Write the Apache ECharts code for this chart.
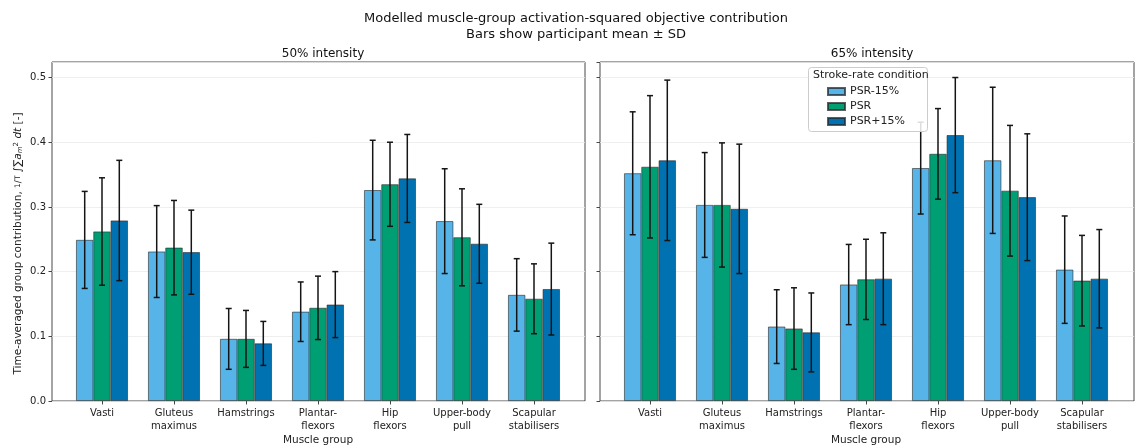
<!DOCTYPE html>
<html>
<head>
<meta charset="utf-8">
<script src="https://cdn.jsdelivr.net/npm/echarts@6/dist/echarts.min.js"></script>
<style>
html,body{margin:0;padding:0;background:#fff;}
#chart{width:1135px;height:446px;}
</style>
</head>
<body>
<div id="chart"></div>
<script>
// ---- Data ----
const categories = ['Vasti', 'Gluteus\nmaximus', 'Hamstrings', 'Plantar-\nflexors', 'Hip\nflexors', 'Upper-body\npull', 'Scapular\nstabilisers'];
const conditions = ['PSR-15%', 'PSR', 'PSR+15%'];
const panelTitles = ['50% intensity', '65% intensity'];
const yTicks = [0, 0.1, 0.2, 0.3, 0.4, 0.5];

const mean50_m15 = [0.249, 0.231, 0.096, 0.138, 0.326, 0.278, 0.164];
const sd50_m15   = [0.075, 0.071, 0.047, 0.046, 0.077, 0.081, 0.056];
const mean50_psr = [0.262, 0.237, 0.096, 0.144, 0.335, 0.253, 0.158];
const sd50_psr   = [0.083, 0.073, 0.044, 0.049, 0.065, 0.075, 0.054];
const mean50_p15 = [0.279, 0.230, 0.089, 0.149, 0.344, 0.243, 0.173];
const sd50_p15   = [0.093, 0.065, 0.034, 0.051, 0.068, 0.061, 0.071];

const mean65_m15 = [0.352, 0.303, 0.115, 0.180, 0.360, 0.372, 0.203];
const sd65_m15   = [0.095, 0.081, 0.057, 0.062, 0.071, 0.113, 0.083];
const mean65_psr = [0.362, 0.303, 0.112, 0.188, 0.382, 0.325, 0.186];
const sd65_psr   = [0.110, 0.096, 0.063, 0.062, 0.070, 0.101, 0.070];
const mean65_p15 = [0.372, 0.297, 0.106, 0.189, 0.411, 0.315, 0.189];
const sd65_p15   = [0.124, 0.100, 0.061, 0.071, 0.089, 0.098, 0.076];

const colors = ['#56B4E9', '#009E73', '#0072B2'];

// ---- Build options ----
const panels = [
  {means: [mean50_m15, mean50_psr, mean50_p15], sds: [sd50_m15, sd50_psr, sd50_p15]},
  {means: [mean65_m15, mean65_psr, mean65_p15], sds: [sd65_m15, sd65_psr, sd65_p15]}
];

const FONT = 'DejaVu Sans';
const TXT = '#222';
const YMAX = 0.524;
const BAR_W = 17.3;
const outerLeft = [52, 600];
const outerW = [533, 534];
const innerLeft = [66, 614];
const innerW = 504;
const TOP = 62, H = 339;

const grid = [], xAxis = [], yAxis = [], series = [];
for (let p = 0; p < 2; p++) {
  // outer frame grid (index 2p), inner bar grid (index 2p+1)
  grid.push({left: outerLeft[p], top: TOP, width: outerW[p], height: H, show: true, outerBoundsMode: 'none', containLabel: false,
             borderColor: '#333', borderWidth: 0.9, backgroundColor: 'transparent'});
  grid.push({left: innerLeft[p], top: TOP, width: innerW, height: H, outerBoundsMode: 'none', containLabel: false});
  xAxis.push({type: 'value', gridIndex: 2 * p, show: false, min: 0, max: 1});
  xAxis.push({type: 'category', gridIndex: 2 * p + 1, data: categories,
    axisLine: {show: false},
    axisTick: {show: true, alignWithLabel: true, length: 3.5, lineStyle: {color: '#333', width: 0.9}},
    axisLabel: {fontFamily: FONT, fontSize: 10, color: TXT, margin: 6.5, lineHeight: 12.5, interval: 0},
    name: 'Muscle group', nameLocation: 'middle', nameGap: 33.5, nameMoveOverlap: false,
    nameTextStyle: {fontFamily: FONT, fontSize: 10.5, color: TXT}
  });
  yAxis.push({type: 'value', gridIndex: 2 * p, min: 0, max: YMAX, interval: 0.1,
    axisLine: {show: false},
    axisTick: {show: true, length: 3.5, lineStyle: {color: '#333', width: 0.9}},
    axisLabel: {show: p === 0, fontFamily: FONT, fontSize: 10, color: TXT, margin: 6, showMaxLabel: false,
      formatter: v => (Math.abs(v * 10 - Math.round(v * 10)) < 1e-6 ? v.toFixed(1) : '')},
    splitLine: {show: true, lineStyle: {color: '#ebebeb', width: 0.8}},
    name: p === 0 ? 'Time-averaged group contribution, {f|1}{s|/}{f|T} ∫∑{i|a}{sub|m}{sup|2} {i|dt} [-]' : '',
    nameLocation: 'middle', nameGap: 28, nameRotate: 90, nameMoveOverlap: false,
    nameTextStyle: {fontFamily: FONT, fontSize: 10.5, color: TXT, padding: [0, 24, 0, 0],
      rich: {
        f: {fontFamily: FONT, fontSize: 7.5, color: TXT},
        s: {fontFamily: FONT, fontSize: 9, color: TXT},
        i: {fontFamily: FONT, fontSize: 10.5, fontStyle: 'italic', color: TXT},
        sub: {fontFamily: FONT, fontSize: 7, fontStyle: 'italic', color: TXT, verticalAlign: 'bottom'},
        sup: {fontFamily: FONT, fontSize: 7, color: TXT, verticalAlign: 'top'}
      }}
  });
  yAxis.push({type: 'value', gridIndex: 2 * p + 1, min: 0, max: YMAX, show: false});

  for (let k = 0; k < 3; k++) {
    series.push({
      type: 'bar', name: conditions[k], xAxisIndex: 2 * p + 1, yAxisIndex: 2 * p + 1,
      data: panels[p].means[k], barWidth: BAR_W, barGap: '0%', z: 2,
      itemStyle: {color: colors[k], borderColor: 'rgba(40,40,40,0.75)', borderWidth: 0.8},
      emphasis: {disabled: true}, animation: false
    });
  }
  // error bars
  const errData = [];
  for (let k = 0; k < 3; k++) {
    for (let i = 0; i < categories.length; i++) {
      errData.push([i, panels[p].means[k][i], panels[p].sds[k][i], k]);
    }
  }
  series.push({
    type: 'custom', xAxisIndex: 2 * p + 1, yAxisIndex: 2 * p + 1, z: 3,
    data: errData, animation: false, silent: true,
    renderItem: function (params, api) {
      const cat = api.value(0), m = api.value(1), sd = api.value(2), k = api.value(3);
      const off = (k - 1) * BAR_W;
      const top = api.coord([cat, m + sd]);
      const bot = api.coord([cat, m - sd]);
      const x = top[0] + off;
      const cw = 3;
      const st = {stroke: '#151515', lineWidth: 1.5};
      return {type: 'group', children: [
        {type: 'line', shape: {x1: x, y1: top[1], x2: x, y2: bot[1]}, style: st},
        {type: 'line', shape: {x1: x - cw, y1: top[1], x2: x + cw, y2: top[1]}, style: st},
        {type: 'line', shape: {x1: x - cw, y1: bot[1], x2: x + cw, y2: bot[1]}, style: st}
      ]};
    }
  });
}

const option = {
  backgroundColor: '#fff',
  animation: false,
  title: [
    {text: 'Modelled muscle-group activation-squared objective contribution\nBars show participant mean ± SD',
     left: 571, top: 6, textAlign: 'center',
     textStyle: {fontFamily: FONT, fontSize: 13, fontWeight: 'normal', color: '#111', lineHeight: 15.5}},
    {text: panelTitles[0], left: 318, top: 43, textAlign: 'center',
     textStyle: {fontFamily: FONT, fontSize: 12, fontWeight: 'normal', color: '#111'}},
    {text: panelTitles[1], left: 867, top: 43, textAlign: 'center',
     textStyle: {fontFamily: FONT, fontSize: 12, fontWeight: 'normal', color: '#111'}}
  ],
  legend: {
    data: conditions, orient: 'vertical', left: 827, top: 85, padding: 0,
    itemWidth: 17, itemHeight: 7, itemGap: 2, icon: 'rect', z: 10,
    textStyle: {fontFamily: FONT, fontSize: 11, color: TXT, lineHeight: 13},
    selectedMode: false
  },
  graphic: [
    {type: 'rect', left: 808, top: 67, z: 8,
     shape: {width: 119, height: 64, r: 3},
     style: {fill: 'rgba(255,255,255,0.85)', stroke: '#cccccc', lineWidth: 1}},
    {type: 'text', left: 813, top: 70, z: 10,
     style: {text: 'Stroke-rate condition', fontFamily: FONT, fontSize: 11, fill: TXT}}
  ],
  grid, xAxis, yAxis, series
};

const chart = echarts.init(document.getElementById('chart'), null, {renderer: 'canvas'});
chart.setOption(option);
</script>
</body>
</html>
